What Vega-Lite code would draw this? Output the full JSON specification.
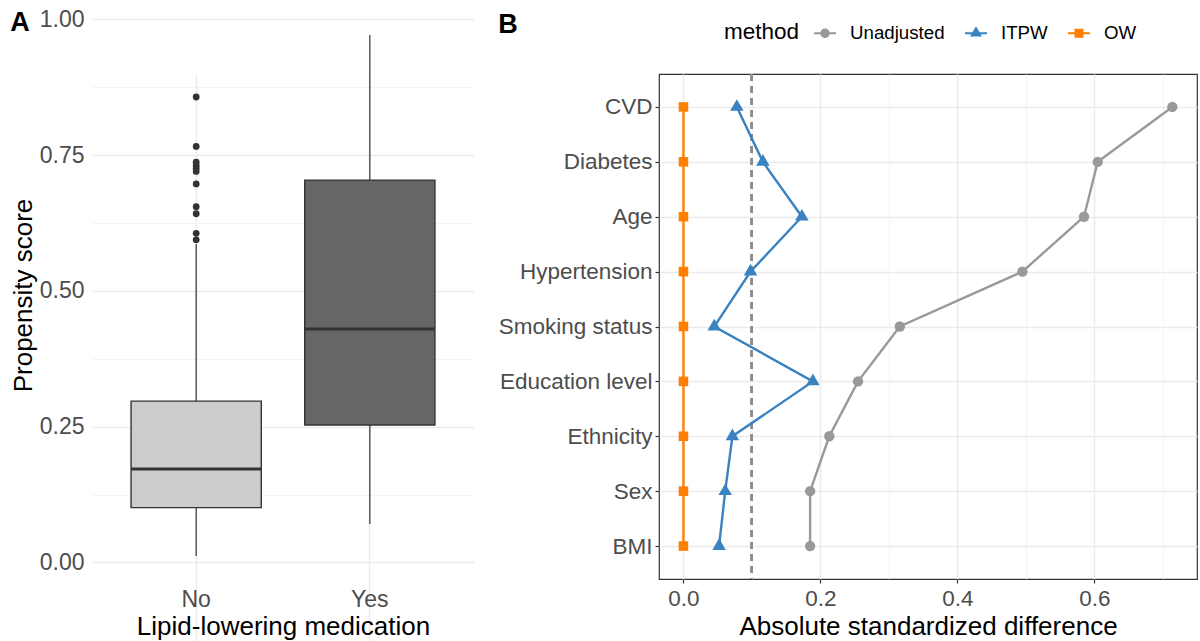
{
  "$schema": "https://vega.github.io/schema/vega-lite/v6.json",
  "background": "white",
  "padding": {"left": 10, "top": 8, "right": 0, "bottom": 0},
  "config": {"font": "Liberation Sans"},
  "spacing": 23,
  "datasets": {
    "boxstats": [
      {"med": "No", "lower": 0.012, "q1": 0.101, "median": 0.172, "q3": 0.297, "upper": 0.586},
      {"med": "Yes", "lower": 0.071, "q1": 0.253, "median": 0.430, "q3": 0.704, "upper": 0.971}
    ],
    "outliers": [
      {"med": "No", "value": 0.857},
      {"med": "No", "value": 0.766},
      {"med": "No", "value": 0.737},
      {"med": "No", "value": 0.731},
      {"med": "No", "value": 0.726},
      {"med": "No", "value": 0.720},
      {"med": "No", "value": 0.697},
      {"med": "No", "value": 0.655},
      {"med": "No", "value": 0.642},
      {"med": "No", "value": 0.606},
      {"med": "No", "value": 0.594}
    ],
    "balance": [
      {"variable": "CVD", "idx": 1, "method": "Unadjusted", "value": 0.714},
      {"variable": "Diabetes", "idx": 2, "method": "Unadjusted", "value": 0.605},
      {"variable": "Age", "idx": 3, "method": "Unadjusted", "value": 0.585},
      {"variable": "Hypertension", "idx": 4, "method": "Unadjusted", "value": 0.495},
      {"variable": "Smoking status", "idx": 5, "method": "Unadjusted", "value": 0.316},
      {"variable": "Education level", "idx": 6, "method": "Unadjusted", "value": 0.255},
      {"variable": "Ethnicity", "idx": 7, "method": "Unadjusted", "value": 0.213},
      {"variable": "Sex", "idx": 8, "method": "Unadjusted", "value": 0.185},
      {"variable": "BMI", "idx": 9, "method": "Unadjusted", "value": 0.185},
      {"variable": "CVD", "idx": 1, "method": "ITPW", "value": 0.078},
      {"variable": "Diabetes", "idx": 2, "method": "ITPW", "value": 0.116},
      {"variable": "Age", "idx": 3, "method": "ITPW", "value": 0.173},
      {"variable": "Hypertension", "idx": 4, "method": "ITPW", "value": 0.098},
      {"variable": "Smoking status", "idx": 5, "method": "ITPW", "value": 0.045},
      {"variable": "Education level", "idx": 6, "method": "ITPW", "value": 0.189},
      {"variable": "Ethnicity", "idx": 7, "method": "ITPW", "value": 0.0715},
      {"variable": "Sex", "idx": 8, "method": "ITPW", "value": 0.061},
      {"variable": "BMI", "idx": 9, "method": "ITPW", "value": 0.052},
      {"variable": "CVD", "idx": 1, "method": "OW", "value": 0},
      {"variable": "Diabetes", "idx": 2, "method": "OW", "value": 0},
      {"variable": "Age", "idx": 3, "method": "OW", "value": 0},
      {"variable": "Hypertension", "idx": 4, "method": "OW", "value": 0},
      {"variable": "Smoking status", "idx": 5, "method": "OW", "value": 0},
      {"variable": "Education level", "idx": 6, "method": "OW", "value": 0},
      {"variable": "Ethnicity", "idx": 7, "method": "OW", "value": 0},
      {"variable": "Sex", "idx": 8, "method": "OW", "value": 0},
      {"variable": "BMI", "idx": 9, "method": "OW", "value": 0}
    ]
  },
  "hconcat": [
    {
      "width": 382,
      "height": 508,
      "view": {"stroke": null},
      "title": {"text": "A", "anchor": "start", "frame": "bounds", "fontSize": 27, "fontWeight": "bold", "color": "#000000", "baseline": "alphabetic", "offset": -50},
      "data": {"name": "boxstats"},
      "layer": [
        {
          "mark": {"type": "rule", "color": "#4d4d4d", "strokeWidth": 1.4},
          "encoding": {
            "x": {"field": "med", "type": "nominal", "title": "Lipid-lowering medication",
              "scale": {"type": "band", "domain": ["No", "Yes"], "paddingInner": 0.25, "paddingOuter": 0.225},
              "axis": {"labelFontSize": 23, "labelColor": "#4d4d4d", "labelAngle": 0, "titleFontSize": 26, "titleColor": "#000000", "titleFontWeight": "normal", "ticks": false, "domain": false, "grid": true, "gridColor": "#ebebeb", "gridWidth": 1.5, "bandPosition": 0.5, "labelPadding": 6, "titlePadding": 2}},
            "y": {"field": "lower", "type": "quantitative", "title": "Propensity score",
              "scale": {"domain": [-0.036, 1.019], "nice": false, "zero": false, "range": [508, -65]},
              "axis": {"values": [0, 0.25, 0.5, 0.75, 1], "format": ".2f", "labelFontSize": 23, "labelColor": "#4d4d4d", "titleFontSize": 26, "titleColor": "#000000", "titleFontWeight": "normal", "ticks": false, "domain": false, "grid": true, "gridColor": "#ebebeb", "gridWidth": 1.5, "labelPadding": 8, "titlePadding": 3, "titleY": 221}},
            "y2": {"field": "upper"}
          }
        },
        {
          "mark": {"type": "bar", "stroke": "#333333", "strokeWidth": 1.4},
          "encoding": {
            "x": {"field": "med", "type": "nominal", "title": "Lipid-lowering medication"},
            "y": {"field": "q1", "type": "quantitative", "title": "Propensity score",
              "axis": {"orient": "right", "values": [0.125, 0.375, 0.625, 0.875], "labels": false, "ticks": false, "domain": false, "title": null, "grid": true, "gridColor": "#f0f0f0", "gridWidth": 0.8}},
            "y2": {"field": "q3"},
            "fill": {"field": "med", "type": "nominal", "scale": {"domain": ["No", "Yes"], "range": ["#cccccc", "#666666"]}, "legend": null}
          }
        },
        {
          "mark": {"type": "tick", "color": "#333333", "thickness": 3, "size": 130, "opacity": 1},
          "encoding": {
            "x": {"field": "med", "type": "nominal", "title": "Lipid-lowering medication"},
            "y": {"field": "median", "type": "quantitative", "axis": null}
          }
        },
        {
          "data": {"name": "outliers"},
          "mark": {"type": "circle", "color": "#333333", "opacity": 1, "size": 46},
          "encoding": {
            "x": {"field": "med", "type": "nominal", "title": "Lipid-lowering medication"},
            "y": {"field": "value", "type": "quantitative", "axis": null}
          }
        }
      ],
      "resolve": {"axis": {"y": "independent"}}
    },
    {
      "width": 538,
      "height": 505,
      "view": {"stroke": "#333333", "strokeWidth": 1.2},
      "title": {"text": "B", "anchor": "start", "frame": "bounds", "fontSize": 27, "fontWeight": "bold", "color": "#000000", "baseline": "alphabetic", "offset": -38},
      "data": {"name": "balance"},
      "layer": [
        {
          "mark": {"type": "rule", "strokeDash": [7, 5], "color": "#8c8c8c", "strokeWidth": 2},
          "encoding": {
            "x": {"datum": 0.1, "type": "quantitative", "title": "Absolute standardized difference",
              "scale": {"domain": [-0.0357, 0.75], "nice": false, "zero": false},
              "axis": {"orient": "top", "values": [0.1, 0.3, 0.5, 0.7], "labels": false, "ticks": false, "domain": false, "title": null, "grid": true, "gridColor": "#f0f0f0", "gridWidth": 0.8}}
          }
        },
        {
          "mark": {"type": "line", "strokeWidth": 2.4},
          "encoding": {
            "x": {"field": "value", "type": "quantitative", "title": "Absolute standardized difference",
              "axis": {"values": [0, 0.2, 0.4, 0.6], "format": ".1f", "labelFontSize": 22.5, "labelColor": "#4d4d4d", "titleFontSize": 26, "titleColor": "#000000", "titleFontWeight": "normal", "ticks": true, "tickSize": 4, "tickColor": "#333333", "tickWidth": 1.2, "domain": false, "grid": true, "gridColor": "#ebebeb", "gridWidth": 1.5, "labelPadding": 4, "titlePadding": 4}},
            "y": {"field": "variable", "type": "nominal", "title": null,
              "scale": {"type": "point", "padding": 0.6, "domain": ["CVD", "Diabetes", "Age", "Hypertension", "Smoking status", "Education level", "Ethnicity", "Sex", "BMI"]},
              "axis": {"labelFontSize": 22.5, "labelColor": "#4d4d4d", "ticks": true, "tickSize": 4, "tickColor": "#333333", "tickWidth": 1.2, "domain": false, "grid": true, "gridColor": "#ebebeb", "gridWidth": 1.5, "labelPadding": 3}},
            "color": {"field": "method", "type": "nominal", "scale": {"domain": ["Unadjusted", "ITPW", "OW"], "range": ["#999999", "#3a82c0", "#ff7f00"]}, "legend": null},
            "order": {"field": "idx", "type": "quantitative"}
          }
        },
        {
          "mark": {"type": "point", "filled": true, "opacity": 1, "size": 108},
          "encoding": {
            "x": {"field": "value", "type": "quantitative", "title": "Absolute standardized difference", "axis": null},
            "y": {"field": "variable", "type": "nominal", "title": null},
            "color": {"field": "method", "type": "nominal", "scale": {"domain": ["Unadjusted", "ITPW", "OW"], "range": ["#999999", "#3a82c0", "#ff7f00"]}, "legend": null},
            "shape": {"field": "method", "type": "nominal", "scale": {"domain": ["Unadjusted", "ITPW", "OW"], "range": ["circle", "M0,-1.5L1.3,0.75H-1.3Z", "M-0.92,-0.92H0.92V0.92H-0.92Z"]}, "legend": null}
          }
        },
        {
          "transform": [{"filter": "false"}],
          "mark": {"type": "point", "filled": true, "opacity": 1},
          "encoding": {
            "color": {"field": "method", "type": "nominal", "title": "method",
              "scale": {"domain": ["Unadjusted", "ITPW", "OW"], "range": ["#999999", "#3a82c0", "#ff7f00"]},
              "legend": {"title": "method", "orient": "none", "legendX": 65, "legendY": -52, "direction": "horizontal", "titleOrient": "left", "titleFontSize": 22.5, "titleFontWeight": "normal", "titleColor": "#000000", "titlePadding": 14, "labelFontSize": 18.7, "labelColor": "#000000", "labelOffset": 14, "columnPadding": 20, "symbolSize": 484, "symbolStrokeWidth": 0, "symbolOpacity": 1}},
            "shape": {"field": "method", "type": "nominal", "title": "method",
              "scale": {"domain": ["Unadjusted", "ITPW", "OW"], "range": [
                "M-1,-0.09H1V0.09H-1ZM0.43,0A0.43,0.43,0,1,1,-0.43,0A0.43,0.43,0,1,1,0.43,0Z",
                "M-1,-0.09H1V0.09H-1ZM0,-0.63L0.545,0.315H-0.545Z",
                "M-1,-0.09H1V0.09H-1ZM-0.41,-0.41H0.41V0.41H-0.41Z"]},
              "legend": {"title": "method", "orient": "none", "legendX": 65, "legendY": -52, "direction": "horizontal", "titleOrient": "left", "titleFontSize": 22.5, "titleFontWeight": "normal", "titleColor": "#000000", "titlePadding": 14, "labelFontSize": 18.7, "labelColor": "#000000", "labelOffset": 14, "columnPadding": 20, "symbolSize": 484, "symbolStrokeWidth": 0, "symbolOpacity": 1}}
          }
        }
      ],
      "resolve": {"axis": {"x": "independent"}, "scale": {"color": "independent", "shape": "independent"}}
    }
  ]
}
